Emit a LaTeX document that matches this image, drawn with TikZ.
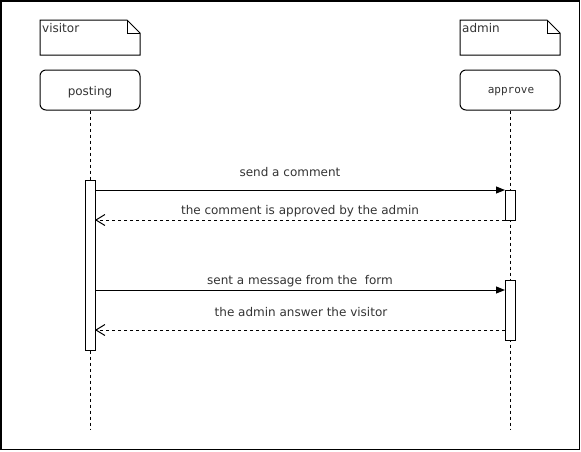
\documentclass[tikz,border=0pt]{standalone}
\usepackage{fontspec}
\setmainfont{DejaVu Sans}
\newfontfamily\monof{DejaVu Sans Mono}
\usetikzlibrary{arrows.meta}
\definecolor{txt}{gray}{0.2}
\tikzset{
  px/.style={x=1pt,y=-1pt},
  frame/.style={draw=black,line width=1.5pt},
  notebox/.style={draw=black,line width=1pt,fill=white},
  objbox/.style={draw=black,line width=1pt,rounded corners=6pt,fill=white,minimum width=100pt,minimum height=40pt,inner sep=0pt},
  lifeline/.style={draw=black,line width=1pt,dash pattern=on 3pt off 3pt},
  actbox/.style={draw=black,line width=1pt,fill=white},
  msg/.style={draw=black,line width=1pt,-{Triangle[length=9pt,width=7pt]}},
  ret/.style={draw=black,line width=1pt,dash pattern=on 3pt off 3pt,-{Straight Barb[length=9pt,width=11pt,line width=1pt]}},
  lbl/.style={font=\fontsize{12}{14}\selectfont,text=txt,inner sep=0pt}
}
\begin{document}
\begin{tikzpicture}[px]
\useasboundingbox (0,0) rectangle (581,451);
\draw[frame] (0.75,0.75) rectangle (579.25,449.5);
% notes
\draw[notebox] (40,20) -- (127,20) -- (140,33) -- (140,55) -- (40,55) -- cycle;
\draw[line width=1pt] (127,20) -- (127,33) -- (140,33);
\node[lbl,anchor=west] (nv) at (42,28) {visitor};
\draw[notebox] (460,20) -- (547,20) -- (560,33) -- (560,55) -- (460,55) -- cycle;
\draw[line width=1pt] (547,20) -- (547,33) -- (560,33);
\node[lbl,anchor=west] (na) at (462,28) {admin};
% lifelines
\coordinate (vend) at (90,430);
\coordinate (aend) at (510,430);
\node[objbox] (posting) at (90,90) {};
\node[objbox] (approve) at (510,90) {};
\node[lbl] (tposting) at (90,92) {posting};
\node[lbl,font=\monof\fontsize{11}{13}\selectfont] (tapprove) at (511,92) {approve};
\draw[lifeline] (posting.south) -- (vend);
\draw[lifeline] (approve.south) -- (aend);
% activations
\node[actbox,minimum width=10pt,minimum height=170pt,inner sep=0pt] (va) at (90,265) {};
\node[actbox,minimum width=10pt,minimum height=30pt,inner sep=0pt] (a1) at (510,205) {};
\node[actbox,minimum width=10pt,minimum height=60pt,inner sep=0pt] (a2) at (510,310) {};
% messages
\coordinate (m1s) at (95,190); \coordinate (m1e) at (505,190);
\draw[msg] (m1s) -- (m1e);
\node[lbl] (l1) at (290,172) {send a comment};
\coordinate (r1s) at (505,220); \coordinate (r1e) at (95,220);
\draw[ret] (r1s) -- (r1e);
\node[lbl] (l2) at (300,211) {the comment is approved by the admin};
\coordinate (m2s) at (95,290); \coordinate (m2e) at (505,290);
\draw[msg] (m2s) -- (m2e);
\node[lbl] (l3) at (300,281) {sent a message from the \ form};
\coordinate (r2s) at (505,330); \coordinate (r2e) at (95,330);
\draw[ret] (r2s) -- (r2e);
\node[lbl] (l4) at (301,312) {the admin answer the visitor};
\end{tikzpicture}
\end{document}
